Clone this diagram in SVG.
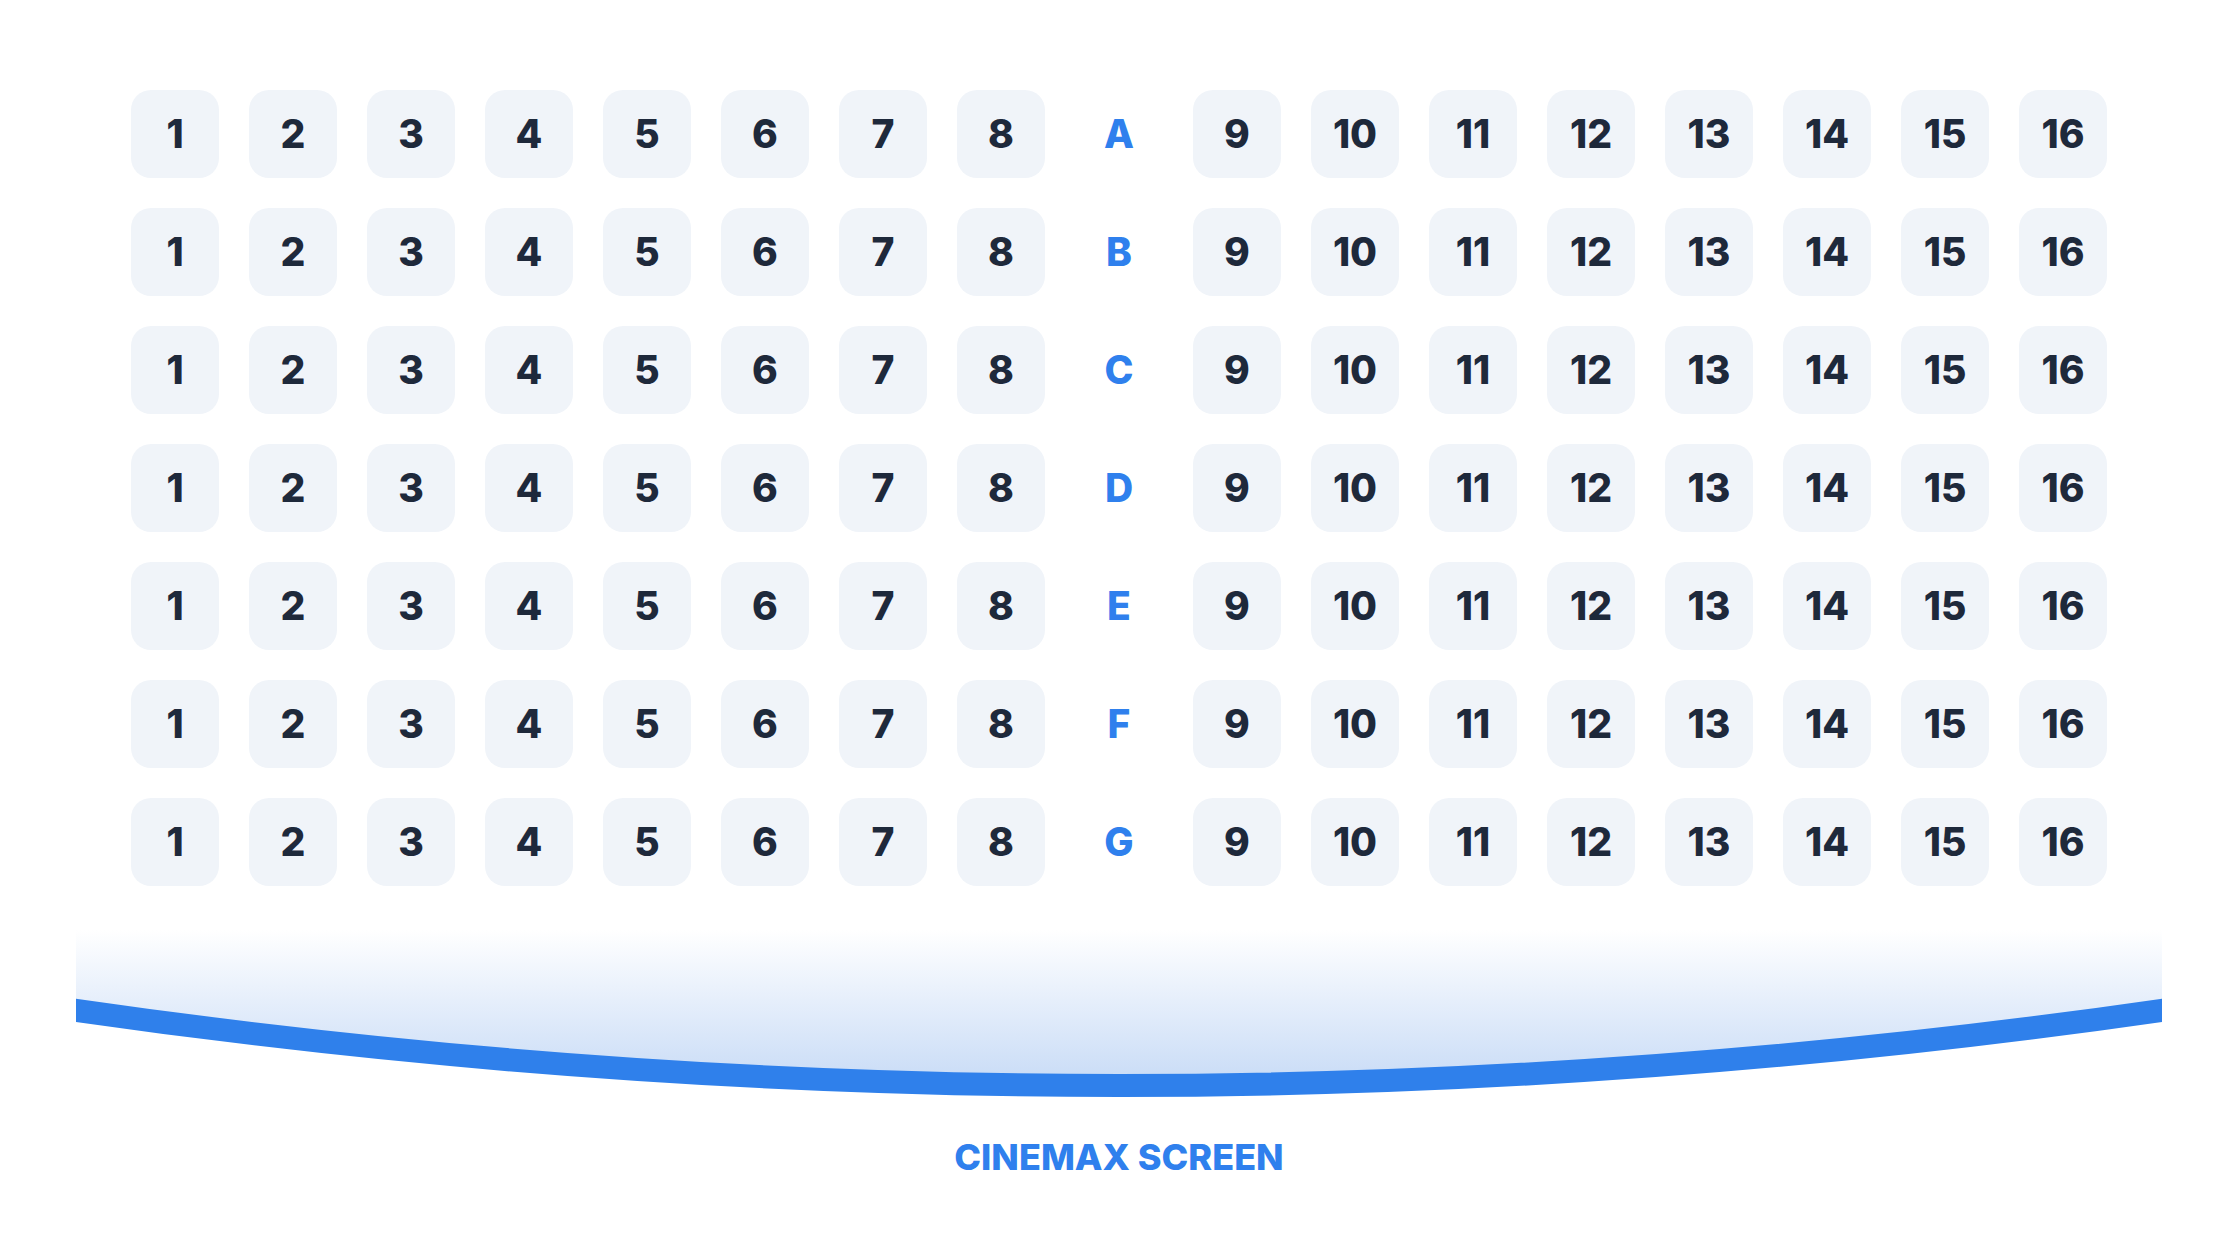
<svg xmlns="http://www.w3.org/2000/svg" width="2238" height="1235" viewBox="0 0 2238 1235">
<style>
.s rect{fill:#F0F4F9}
.s text{font-family:Inter,"Open Sans","DejaVu Sans",sans-serif;font-weight:800;font-size:39px;fill:#1E293B;text-anchor:middle}
.r{font-family:Inter,"Open Sans","DejaVu Sans",sans-serif;font-weight:800;font-size:39px;fill:#2F80ED;text-anchor:middle}
.t{font-family:Inter,"Open Sans","DejaVu Sans",sans-serif;font-weight:800;font-size:36px;fill:#2F80ED;text-anchor:middle}
</style>
<defs>
<linearGradient id="glow" x1="0" y1="930" x2="0" y2="1090" gradientUnits="userSpaceOnUse">
<stop offset="0" stop-color="#FFFFFF" stop-opacity="1"/>
<stop offset="1" stop-color="#C6DAF6"/>
</linearGradient>
<clipPath id="scr"><rect x="76" y="900" width="2086" height="250"/></clipPath>
</defs>
<rect width="2238" height="1235" fill="#FFFFFF"/>
<g id="row-A" transform="translate(0,90)">
<g id="A1" class="s"><rect x="131" width="88" height="88" rx="20"/><text x="175" y="58">1</text></g>
<g id="A2" class="s"><rect x="249" width="88" height="88" rx="20"/><text x="293" y="58">2</text></g>
<g id="A3" class="s"><rect x="367" width="88" height="88" rx="20"/><text x="411" y="58">3</text></g>
<g id="A4" class="s"><rect x="485" width="88" height="88" rx="20"/><text x="529" y="58">4</text></g>
<g id="A5" class="s"><rect x="603" width="88" height="88" rx="20"/><text x="647" y="58">5</text></g>
<g id="A6" class="s"><rect x="721" width="88" height="88" rx="20"/><text x="765" y="58">6</text></g>
<g id="A7" class="s"><rect x="839" width="88" height="88" rx="20"/><text x="883" y="58">7</text></g>
<g id="A8" class="s"><rect x="957" width="88" height="88" rx="20"/><text x="1001" y="58">8</text></g>
<text id="label-A" class="r" x="1119" y="58">A</text>
<g id="A9" class="s"><rect x="1193" width="88" height="88" rx="20"/><text x="1237" y="58">9</text></g>
<g id="A10" class="s"><rect x="1311" width="88" height="88" rx="20"/><text x="1355" y="58">10</text></g>
<g id="A11" class="s"><rect x="1429" width="88" height="88" rx="20"/><text x="1473" y="58">11</text></g>
<g id="A12" class="s"><rect x="1547" width="88" height="88" rx="20"/><text x="1591" y="58">12</text></g>
<g id="A13" class="s"><rect x="1665" width="88" height="88" rx="20"/><text x="1709" y="58">13</text></g>
<g id="A14" class="s"><rect x="1783" width="88" height="88" rx="20"/><text x="1827" y="58">14</text></g>
<g id="A15" class="s"><rect x="1901" width="88" height="88" rx="20"/><text x="1945" y="58">15</text></g>
<g id="A16" class="s"><rect x="2019" width="88" height="88" rx="20"/><text x="2063" y="58">16</text></g>
</g>
<g id="row-B" transform="translate(0,208)">
<g id="B1" class="s"><rect x="131" width="88" height="88" rx="20"/><text x="175" y="58">1</text></g>
<g id="B2" class="s"><rect x="249" width="88" height="88" rx="20"/><text x="293" y="58">2</text></g>
<g id="B3" class="s"><rect x="367" width="88" height="88" rx="20"/><text x="411" y="58">3</text></g>
<g id="B4" class="s"><rect x="485" width="88" height="88" rx="20"/><text x="529" y="58">4</text></g>
<g id="B5" class="s"><rect x="603" width="88" height="88" rx="20"/><text x="647" y="58">5</text></g>
<g id="B6" class="s"><rect x="721" width="88" height="88" rx="20"/><text x="765" y="58">6</text></g>
<g id="B7" class="s"><rect x="839" width="88" height="88" rx="20"/><text x="883" y="58">7</text></g>
<g id="B8" class="s"><rect x="957" width="88" height="88" rx="20"/><text x="1001" y="58">8</text></g>
<text id="label-B" class="r" x="1119" y="58">B</text>
<g id="B9" class="s"><rect x="1193" width="88" height="88" rx="20"/><text x="1237" y="58">9</text></g>
<g id="B10" class="s"><rect x="1311" width="88" height="88" rx="20"/><text x="1355" y="58">10</text></g>
<g id="B11" class="s"><rect x="1429" width="88" height="88" rx="20"/><text x="1473" y="58">11</text></g>
<g id="B12" class="s"><rect x="1547" width="88" height="88" rx="20"/><text x="1591" y="58">12</text></g>
<g id="B13" class="s"><rect x="1665" width="88" height="88" rx="20"/><text x="1709" y="58">13</text></g>
<g id="B14" class="s"><rect x="1783" width="88" height="88" rx="20"/><text x="1827" y="58">14</text></g>
<g id="B15" class="s"><rect x="1901" width="88" height="88" rx="20"/><text x="1945" y="58">15</text></g>
<g id="B16" class="s"><rect x="2019" width="88" height="88" rx="20"/><text x="2063" y="58">16</text></g>
</g>
<g id="row-C" transform="translate(0,326)">
<g id="C1" class="s"><rect x="131" width="88" height="88" rx="20"/><text x="175" y="58">1</text></g>
<g id="C2" class="s"><rect x="249" width="88" height="88" rx="20"/><text x="293" y="58">2</text></g>
<g id="C3" class="s"><rect x="367" width="88" height="88" rx="20"/><text x="411" y="58">3</text></g>
<g id="C4" class="s"><rect x="485" width="88" height="88" rx="20"/><text x="529" y="58">4</text></g>
<g id="C5" class="s"><rect x="603" width="88" height="88" rx="20"/><text x="647" y="58">5</text></g>
<g id="C6" class="s"><rect x="721" width="88" height="88" rx="20"/><text x="765" y="58">6</text></g>
<g id="C7" class="s"><rect x="839" width="88" height="88" rx="20"/><text x="883" y="58">7</text></g>
<g id="C8" class="s"><rect x="957" width="88" height="88" rx="20"/><text x="1001" y="58">8</text></g>
<text id="label-C" class="r" x="1119" y="58">C</text>
<g id="C9" class="s"><rect x="1193" width="88" height="88" rx="20"/><text x="1237" y="58">9</text></g>
<g id="C10" class="s"><rect x="1311" width="88" height="88" rx="20"/><text x="1355" y="58">10</text></g>
<g id="C11" class="s"><rect x="1429" width="88" height="88" rx="20"/><text x="1473" y="58">11</text></g>
<g id="C12" class="s"><rect x="1547" width="88" height="88" rx="20"/><text x="1591" y="58">12</text></g>
<g id="C13" class="s"><rect x="1665" width="88" height="88" rx="20"/><text x="1709" y="58">13</text></g>
<g id="C14" class="s"><rect x="1783" width="88" height="88" rx="20"/><text x="1827" y="58">14</text></g>
<g id="C15" class="s"><rect x="1901" width="88" height="88" rx="20"/><text x="1945" y="58">15</text></g>
<g id="C16" class="s"><rect x="2019" width="88" height="88" rx="20"/><text x="2063" y="58">16</text></g>
</g>
<g id="row-D" transform="translate(0,444)">
<g id="D1" class="s"><rect x="131" width="88" height="88" rx="20"/><text x="175" y="58">1</text></g>
<g id="D2" class="s"><rect x="249" width="88" height="88" rx="20"/><text x="293" y="58">2</text></g>
<g id="D3" class="s"><rect x="367" width="88" height="88" rx="20"/><text x="411" y="58">3</text></g>
<g id="D4" class="s"><rect x="485" width="88" height="88" rx="20"/><text x="529" y="58">4</text></g>
<g id="D5" class="s"><rect x="603" width="88" height="88" rx="20"/><text x="647" y="58">5</text></g>
<g id="D6" class="s"><rect x="721" width="88" height="88" rx="20"/><text x="765" y="58">6</text></g>
<g id="D7" class="s"><rect x="839" width="88" height="88" rx="20"/><text x="883" y="58">7</text></g>
<g id="D8" class="s"><rect x="957" width="88" height="88" rx="20"/><text x="1001" y="58">8</text></g>
<text id="label-D" class="r" x="1119" y="58">D</text>
<g id="D9" class="s"><rect x="1193" width="88" height="88" rx="20"/><text x="1237" y="58">9</text></g>
<g id="D10" class="s"><rect x="1311" width="88" height="88" rx="20"/><text x="1355" y="58">10</text></g>
<g id="D11" class="s"><rect x="1429" width="88" height="88" rx="20"/><text x="1473" y="58">11</text></g>
<g id="D12" class="s"><rect x="1547" width="88" height="88" rx="20"/><text x="1591" y="58">12</text></g>
<g id="D13" class="s"><rect x="1665" width="88" height="88" rx="20"/><text x="1709" y="58">13</text></g>
<g id="D14" class="s"><rect x="1783" width="88" height="88" rx="20"/><text x="1827" y="58">14</text></g>
<g id="D15" class="s"><rect x="1901" width="88" height="88" rx="20"/><text x="1945" y="58">15</text></g>
<g id="D16" class="s"><rect x="2019" width="88" height="88" rx="20"/><text x="2063" y="58">16</text></g>
</g>
<g id="row-E" transform="translate(0,562)">
<g id="E1" class="s"><rect x="131" width="88" height="88" rx="20"/><text x="175" y="58">1</text></g>
<g id="E2" class="s"><rect x="249" width="88" height="88" rx="20"/><text x="293" y="58">2</text></g>
<g id="E3" class="s"><rect x="367" width="88" height="88" rx="20"/><text x="411" y="58">3</text></g>
<g id="E4" class="s"><rect x="485" width="88" height="88" rx="20"/><text x="529" y="58">4</text></g>
<g id="E5" class="s"><rect x="603" width="88" height="88" rx="20"/><text x="647" y="58">5</text></g>
<g id="E6" class="s"><rect x="721" width="88" height="88" rx="20"/><text x="765" y="58">6</text></g>
<g id="E7" class="s"><rect x="839" width="88" height="88" rx="20"/><text x="883" y="58">7</text></g>
<g id="E8" class="s"><rect x="957" width="88" height="88" rx="20"/><text x="1001" y="58">8</text></g>
<text id="label-E" class="r" x="1119" y="58">E</text>
<g id="E9" class="s"><rect x="1193" width="88" height="88" rx="20"/><text x="1237" y="58">9</text></g>
<g id="E10" class="s"><rect x="1311" width="88" height="88" rx="20"/><text x="1355" y="58">10</text></g>
<g id="E11" class="s"><rect x="1429" width="88" height="88" rx="20"/><text x="1473" y="58">11</text></g>
<g id="E12" class="s"><rect x="1547" width="88" height="88" rx="20"/><text x="1591" y="58">12</text></g>
<g id="E13" class="s"><rect x="1665" width="88" height="88" rx="20"/><text x="1709" y="58">13</text></g>
<g id="E14" class="s"><rect x="1783" width="88" height="88" rx="20"/><text x="1827" y="58">14</text></g>
<g id="E15" class="s"><rect x="1901" width="88" height="88" rx="20"/><text x="1945" y="58">15</text></g>
<g id="E16" class="s"><rect x="2019" width="88" height="88" rx="20"/><text x="2063" y="58">16</text></g>
</g>
<g id="row-F" transform="translate(0,680)">
<g id="F1" class="s"><rect x="131" width="88" height="88" rx="20"/><text x="175" y="58">1</text></g>
<g id="F2" class="s"><rect x="249" width="88" height="88" rx="20"/><text x="293" y="58">2</text></g>
<g id="F3" class="s"><rect x="367" width="88" height="88" rx="20"/><text x="411" y="58">3</text></g>
<g id="F4" class="s"><rect x="485" width="88" height="88" rx="20"/><text x="529" y="58">4</text></g>
<g id="F5" class="s"><rect x="603" width="88" height="88" rx="20"/><text x="647" y="58">5</text></g>
<g id="F6" class="s"><rect x="721" width="88" height="88" rx="20"/><text x="765" y="58">6</text></g>
<g id="F7" class="s"><rect x="839" width="88" height="88" rx="20"/><text x="883" y="58">7</text></g>
<g id="F8" class="s"><rect x="957" width="88" height="88" rx="20"/><text x="1001" y="58">8</text></g>
<text id="label-F" class="r" x="1119" y="58">F</text>
<g id="F9" class="s"><rect x="1193" width="88" height="88" rx="20"/><text x="1237" y="58">9</text></g>
<g id="F10" class="s"><rect x="1311" width="88" height="88" rx="20"/><text x="1355" y="58">10</text></g>
<g id="F11" class="s"><rect x="1429" width="88" height="88" rx="20"/><text x="1473" y="58">11</text></g>
<g id="F12" class="s"><rect x="1547" width="88" height="88" rx="20"/><text x="1591" y="58">12</text></g>
<g id="F13" class="s"><rect x="1665" width="88" height="88" rx="20"/><text x="1709" y="58">13</text></g>
<g id="F14" class="s"><rect x="1783" width="88" height="88" rx="20"/><text x="1827" y="58">14</text></g>
<g id="F15" class="s"><rect x="1901" width="88" height="88" rx="20"/><text x="1945" y="58">15</text></g>
<g id="F16" class="s"><rect x="2019" width="88" height="88" rx="20"/><text x="2063" y="58">16</text></g>
</g>
<g id="row-G" transform="translate(0,798)">
<g id="G1" class="s"><rect x="131" width="88" height="88" rx="20"/><text x="175" y="58">1</text></g>
<g id="G2" class="s"><rect x="249" width="88" height="88" rx="20"/><text x="293" y="58">2</text></g>
<g id="G3" class="s"><rect x="367" width="88" height="88" rx="20"/><text x="411" y="58">3</text></g>
<g id="G4" class="s"><rect x="485" width="88" height="88" rx="20"/><text x="529" y="58">4</text></g>
<g id="G5" class="s"><rect x="603" width="88" height="88" rx="20"/><text x="647" y="58">5</text></g>
<g id="G6" class="s"><rect x="721" width="88" height="88" rx="20"/><text x="765" y="58">6</text></g>
<g id="G7" class="s"><rect x="839" width="88" height="88" rx="20"/><text x="883" y="58">7</text></g>
<g id="G8" class="s"><rect x="957" width="88" height="88" rx="20"/><text x="1001" y="58">8</text></g>
<text id="label-G" class="r" x="1119" y="58">G</text>
<g id="G9" class="s"><rect x="1193" width="88" height="88" rx="20"/><text x="1237" y="58">9</text></g>
<g id="G10" class="s"><rect x="1311" width="88" height="88" rx="20"/><text x="1355" y="58">10</text></g>
<g id="G11" class="s"><rect x="1429" width="88" height="88" rx="20"/><text x="1473" y="58">11</text></g>
<g id="G12" class="s"><rect x="1547" width="88" height="88" rx="20"/><text x="1591" y="58">12</text></g>
<g id="G13" class="s"><rect x="1665" width="88" height="88" rx="20"/><text x="1709" y="58">13</text></g>
<g id="G14" class="s"><rect x="1783" width="88" height="88" rx="20"/><text x="1827" y="58">14</text></g>
<g id="G15" class="s"><rect x="1901" width="88" height="88" rx="20"/><text x="1945" y="58">15</text></g>
<g id="G16" class="s"><rect x="2019" width="88" height="88" rx="20"/><text x="2063" y="58">16</text></g>
</g>
<g id="screen" clip-path="url(#scr)">
<path d="M76,930 L2162,930 L2162,1010 Q1119,1162 76,1010 Z" fill="url(#glow)"/>
<path d="M40,1005 Q1119,1166 2198,1005" fill="none" stroke="#2F80EB" stroke-width="23"/>
</g>
<text id="screen-label" class="t" x="1119" y="1170">CINEMAX SCREEN</text>
</svg>
